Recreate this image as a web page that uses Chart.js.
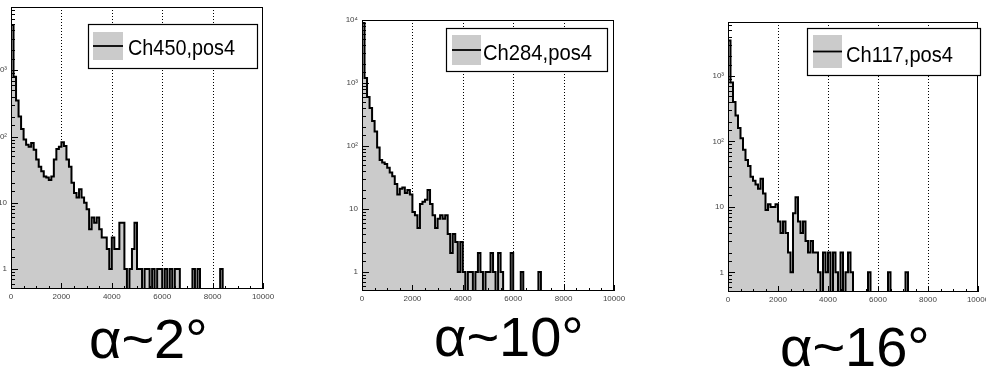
<!DOCTYPE html>
<html><head><meta charset="utf-8">
<script src="https://cdn.jsdelivr.net/npm/chart.js@4.4.1/dist/chart.umd.min.js"></script>
<style>
html,body{margin:0;padding:0;background:#fff;overflow:hidden;width:986px;height:369px;position:relative;}
canvas{position:absolute;}
.lab{position:absolute;font-family:"Liberation Sans",Arial,sans-serif;font-size:56px;line-height:1;color:#000;white-space:nowrap;}
</style></head><body>
<canvas id="c1"></canvas><canvas id="c2"></canvas><canvas id="c3"></canvas>
<div class="lab" id="l1"></div><div class="lab" id="l2"></div><div class="lab" id="l3"></div>
<script>
// ---- data ----
const BIN_WIDTH = 100;
const X_MIN = 0, X_MAX = 10000;
const Y_MIN = 0.5;
const xTickValues = [0, 2000, 4000, 6000, 8000, 10000];
const xTickLabels = ['0', '2000', '4000', '6000', '8000', '10000'];
const yTickValues = [1, 10, 100, 1000, 10000];
const yTickLabels = ['1', '10', '10²', '10³', '10⁴'];
const gridValues = [2000, 4000, 6000, 8000];
const legendNames = ['Ch450,pos4', 'Ch284,pos4', 'Ch117,pos4'];
const angleLabels = ['α~2°', 'α~10°', 'α~16°'];
const yMaxes = [9000, 10000, 6700];

const ch450 = [
  4800, 800, 350, 200, 130, 90, 75, 70, 80, 63,
  45, 35, 30, 25, 24, 22, 25, 45, 65, 70,
  82, 72, 45, 35, 20, 14, 12, 16, 12, 10,
  8, 4, 6, 5, 6, 4, 3, 3, 2, 1,
  3, 2, 2, 5, 5, 1, 0, 1, 2, 5,
  1, 1, 0, 1, 1, 0, 1, 0, 1, 1,
  0, 1, 0, 1, 0, 1, 1, 0, 0, 0,
  0, 0, 1, 0, 1, 0, 0, 0, 0, 0,
  0, 0, 0, 1, 0, 0, 0, 0, 0, 0,
  0, 0, 0, 0, 0, 0, 0, 0, 0, 0
];
const ch284 = [
  9000, 1200, 600, 400, 250, 170, 95, 60, 55, 52,
  45, 38, 33, 25, 17, 21, 22, 18, 20, 17,
  9, 8, 5, 12, 13, 14, 20, 12, 8, 5,
  7, 8, 7, 8, 4, 2, 4, 3, 1, 3,
  1, 0, 1, 1, 0, 1, 2, 1, 0, 1,
  1, 2, 1, 0, 2, 1, 0, 0, 0, 2,
  0, 0, 0, 1, 0, 0, 0, 0, 0, 0,
  1, 0, 0, 0, 0, 0, 0, 0, 0, 0,
  0, 0, 0, 0, 0, 0, 0, 0, 0, 0,
  0, 0, 0, 0, 0, 0, 0, 0, 0, 0
];
const ch117 = [
  3500, 800, 400, 250, 160, 112, 75, 52, 42, 29,
  25, 22, 19, 27, 16, 9, 11, 10, 10, 11,
  6, 4, 6, 4, 2, 1, 8, 14, 6, 4,
  6, 3, 2, 3, 2, 2, 1, 0, 2, 1,
  2, 0, 2, 1, 0, 2, 0, 1, 2, 1,
  0, 0, 0, 0, 0, 0, 1, 0, 0, 0,
  0, 0, 0, 0, 1, 0, 0, 0, 0, 0,
  0, 1, 0, 0, 0, 0, 0, 0, 0, 0,
  0, 0, 0, 0, 0, 0, 0, 0, 0, 0,
  0, 0, 0, 0, 0, 0, 0, 0, 0, 0
];
const seriesList = [ch450, ch284, ch117];

// ---- layout (page pixels) ----
const FILL = '#cbcbcb';
const YW = 40, PT = 10, PR = 16, XH = 20;
const layouts = [
  {frame:{l:11, r:263, t:7, b:289},
   legend:{l:88, t:24, r:258, b:69, sl:93, sr:123, st:32, sb:60, tx:128, ty:55, tw:107}},
  {frame:{l:362, r:614, t:20, b:291},
   legend:{l:446, t:28, r:608, b:72, sl:452, sr:481, st:35, sb:65, tx:483, ty:60, tw:109}},
  {frame:{l:728, r:978, t:22, b:292},
   legend:{l:807, t:28, r:981, b:76, sl:813, sr:842, st:35, sb:68, tx:846, ty:62, tw:107}}
];
const labelPos = [{x:89, base:358}, {x:434, base:356}, {x:780, base:366}];

function toPoints(counts) {
  const pts = [{x: X_MIN, y: Y_MIN}];
  counts.forEach((c, i) => pts.push({x: X_MIN + i * BIN_WIDTH, y: c > 0 ? c : Y_MIN}));
  pts.push({x: X_MIN + counts.length * BIN_WIDTH, y: Y_MIN});
  return pts;
}

function makePlugin(L, ox, oy, name) {
  return {
    id: 'rootFrame',
    beforeDatasetsDraw(chart) {
      const {ctx, chartArea: a, scales: {x}} = chart;
      ctx.save();
      ctx.strokeStyle = '#000'; ctx.lineWidth = 1; ctx.setLineDash([1, 2]);
      for (const v of gridValues) {
        const px = Math.round(x.getPixelForValue(v)) + 0.5;
        ctx.beginPath(); ctx.moveTo(px, a.top); ctx.lineTo(px, a.bottom); ctx.stroke();
      }
      ctx.restore();
    },
    afterDatasetsDraw(chart) {
      const {ctx, chartArea: a, scales: {x, y}} = chart;
      ctx.save();
      ctx.strokeStyle = '#000'; ctx.lineWidth = 1;
      ctx.beginPath();
      for (let v = X_MIN; v <= X_MAX; v += 500) {
        const px = Math.round(x.getPixelForValue(v)) + 0.5;
        const len = (v % 2000 === 0) ? 6 : 3;
        ctx.moveTo(px, a.bottom); ctx.lineTo(px, a.bottom - len);
      }
      for (const t of y.ticks) {
        if (t.value <= y.min || t.value >= y.max) continue;
        const py = Math.round(y.getPixelForValue(t.value)) + 0.5;
        const len = yTickValues.includes(t.value) ? 7 : 4;
        ctx.moveTo(a.left, py); ctx.lineTo(a.left + len, py);
      }
      ctx.stroke();
      ctx.strokeRect(a.left + 0.5, a.top + 0.5, a.right - a.left - 1, a.bottom - a.top - 1);
      ctx.restore();
    },
    afterDraw(chart) {
      const {ctx} = chart; const g = L;
      ctx.save();
      ctx.fillStyle = '#fff';
      ctx.fillRect(g.l - ox, g.t - oy, g.r - g.l, g.b - g.t);
      ctx.strokeStyle = '#000'; ctx.lineWidth = 1.2;
      ctx.strokeRect(g.l - ox + 0.5, g.t - oy + 0.5, g.r - g.l - 1, g.b - g.t - 1);
      ctx.fillStyle = FILL;
      ctx.fillRect(g.sl - ox, g.st - oy, g.sr - g.sl, g.sb - g.st);
      ctx.lineWidth = 1.8;
      const my = (g.st + g.sb) / 2 - oy;
      ctx.beginPath(); ctx.moveTo(g.sl - ox, my); ctx.lineTo(g.sr - ox, my); ctx.stroke();
      ctx.font = '22px "Liberation Sans", Arial, sans-serif';
      ctx.fillStyle = '#000'; ctx.textBaseline = 'alphabetic'; ctx.textAlign = 'left';
      const w = ctx.measureText(name).width;
      ctx.translate(g.tx - ox, g.ty - oy); ctx.scale(g.tw / w, 1);
      ctx.fillText(name, 0, 0);
      ctx.restore();
    }
  };
}

layouts.forEach((P, k) => {
  const f = P.frame;
  const cx = f.l - YW, cy = f.t - PT;
  const W = YW + (f.r - f.l) + PR, H = PT + (f.b - f.t) + XH;
  const cv = document.getElementById('c' + (k + 1));
  cv.width = W; cv.height = H;
  cv.style.left = cx + 'px'; cv.style.top = cy + 'px';
  cv.style.width = W + 'px'; cv.style.height = H + 'px';
  const tickFont = {size: 8, family: '"Liberation Sans", Arial, sans-serif'};
  new Chart(cv, {
    type: 'line',
    data: {datasets: [{
      label: legendNames[k],
      data: toPoints(seriesList[k]),
      stepped: true,
      borderColor: '#000', borderWidth: 2,
      backgroundColor: FILL, fill: 'start',
      pointRadius: 0, tension: 0
    }]},
    options: {
      responsive: false, animation: false, devicePixelRatio: 1,
      layout: {padding: {top: PT, right: PR, left: 0, bottom: 0}},
      plugins: {legend: {display: false}, tooltip: {enabled: false}},
      scales: {
        x: {
          type: 'linear', min: X_MIN, max: X_MAX,
          ticks: {stepSize: 2000, autoSkip: false, maxRotation: 0, font: tickFont, color: '#444', padding: 3,
            callback: v => { const i = xTickValues.indexOf(v); return i >= 0 ? xTickLabels[i] : ''; }},
          grid: {display: false, drawTicks: false}, border: {display: false},
          afterFit: s => { s.height = XH; }
        },
        y: {
          type: 'logarithmic', min: Y_MIN, max: yMaxes[k],
          ticks: {autoSkip: false, font: tickFont, color: '#444', padding: 4,
            callback: v => { const i = yTickValues.findIndex(t => Math.abs(t - v) < 1e-9); return i >= 0 ? yTickLabels[i] : ''; }},
          grid: {display: false, drawTicks: false}, border: {display: false},
          afterFit: s => { s.width = YW; }
        }
      }
    },
    plugins: [makePlugin(P.legend, cx, cy, legendNames[k])]
  });
  const lab = document.getElementById('l' + (k + 1));
  lab.textContent = angleLabels[k];
  lab.style.left = labelPos[k].x + 'px';
  lab.style.top = (labelPos[k].base - 0.8465 * 56) + 'px';
});
</script>
</body></html>
